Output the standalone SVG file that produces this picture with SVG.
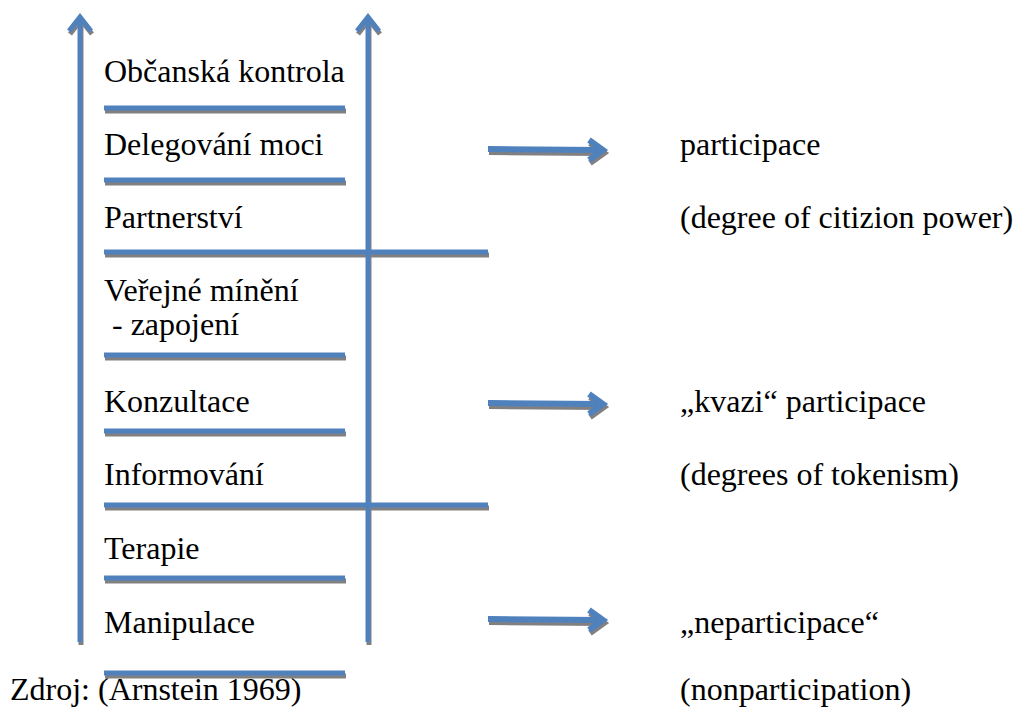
<svg xmlns="http://www.w3.org/2000/svg" width="1016" height="713" viewBox="0 0 1016 713">
  <style>
    .lbl { font-family: "Liberation Serif", "Times New Roman", serif; font-size: 32px; fill: #000; }
    .bar { stroke: #4F81BD; stroke-width: 5; fill: none; }
    .rail { stroke: #4F81BD; stroke-width: 5; fill: none; stroke-linejoin: miter; }
    .arw { stroke: #4F81BD; stroke-width: 6; fill: none; stroke-linejoin: miter; }
    .shade { filter: url(#shadow); }
  </style>
  <defs>
    <!-- grey offset shadow under every stroke -->
    <filter id="shadow" filterUnits="userSpaceOnUse" x="0" y="0" width="1016" height="713">
      <feDropShadow dx="1" dy="3" stdDeviation="0.4" flood-color="#808080" flood-opacity="1"/>
    </filter>
  </defs>
  <rect width="1016" height="713" fill="#ffffff"/>

  <!-- ladder rails, rungs and pointer arrows -->
  <g id="connectors" class="shade">
    <polyline class="rail" points="80,642 80,17"/>
    <polyline class="rail" points="69,31 80,17 91,31"/>
    <polyline class="rail" points="368,642 368,17"/>
    <polyline class="rail" points="357,31 368,17 379,31"/>

    <line class="bar" x1="104" y1="108" x2="345" y2="108"/>
    <line class="bar" x1="104" y1="180" x2="345" y2="180"/>
    <line class="bar" x1="104" y1="252" x2="488" y2="252"/>
    <line class="bar" x1="104" y1="355" x2="345" y2="355"/>
    <line class="bar" x1="104" y1="431" x2="345" y2="431"/>
    <line class="bar" x1="104" y1="505" x2="488" y2="505"/>
    <line class="bar" x1="104" y1="578" x2="345" y2="578"/>
    <line class="bar" x1="104" y1="673" x2="345" y2="673"/>

    <polyline class="arw" points="488,149 602,150"/>
    <polyline class="arw" points="589,140 603,150 589,160"/>
    <polyline class="arw" points="488,403 602,404"/>
    <polyline class="arw" points="589,394 603,404 589,414"/>
    <polyline class="arw" points="488,619 602,620"/>
    <polyline class="arw" points="589,610 603,620 589,630"/>
  </g>

  <!-- rungs of the ladder -->
  <g id="n-obcanska"><text class="lbl" x="104" y="82">Občanská kontrola</text></g>
  <g id="n-delegovani"><text class="lbl" x="104" y="155">Delegování moci</text></g>
  <g id="n-partnerstvi"><text class="lbl" x="104" y="228">Partnerství</text></g>
  <g id="n-verejne"><text class="lbl" x="104" y="301">Veřejné mínění</text><text class="lbl" x="104" y="335" xml:space="preserve"> - zapojení</text></g>
  <g id="n-konzultace"><text class="lbl" x="104" y="412">Konzultace</text></g>
  <g id="n-informovani"><text class="lbl" x="104" y="485">Informování</text></g>
  <g id="n-terapie"><text class="lbl" x="104" y="559">Terapie</text></g>
  <g id="n-manipulace"><text class="lbl" x="104" y="633">Manipulace</text></g>
  <g id="n-zdroj"><text class="lbl" x="10" y="700">Zdroj: (Arnstein 1969)</text></g>

  <!-- participation categories -->
  <g id="c-participace"><text class="lbl" x="680" y="155">participace</text><text class="lbl" x="680" y="228">(degree of citizion power)</text></g>
  <g id="c-kvazi"><text class="lbl" x="680" y="412">„kvazi“ participace</text><text class="lbl" x="680" y="485">(degrees of tokenism)</text></g>
  <g id="c-neparticipace"><text class="lbl" x="680" y="633">„neparticipace“</text><text class="lbl" x="680" y="700">(nonparticipation)</text></g>
</svg>
